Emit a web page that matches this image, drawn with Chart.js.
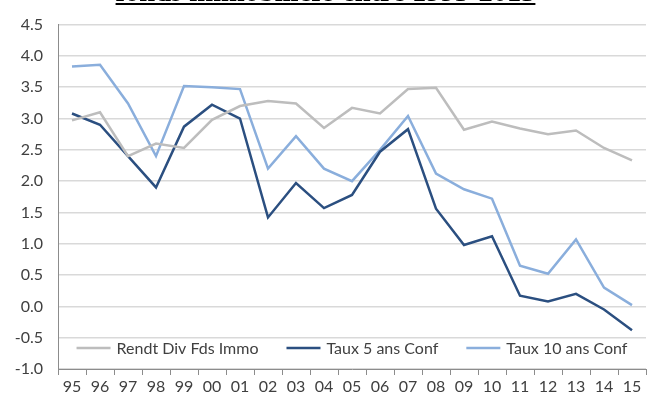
<!DOCTYPE html>
<html>
<head>
<meta charset="utf-8">
<script src="https://cdn.jsdelivr.net/npm/chart.js@4/dist/chart.umd.min.js"></script>
<style>
    html, body { margin: 0; padding: 0; background: #fff; overflow: hidden; }
    #wrap { position: relative; width: 651px; height: 394px; }
    #title {
        position: absolute; left: 0; width: 651px; top: -22px;
        text-align: center; font: bold 28.5px 'Liberation Serif', serif;
        line-height: 28px; color: #000; text-decoration: underline;
        white-space: nowrap;
    }
</style>
</head>
<body>
<div id="wrap">
    <canvas id="chart" width="651" height="394"></canvas>
    <div id="title">fonds immobiliers entre 1995-2015</div>
</div>
<script>
const years = ['95', '96', '97', '98', '99', '00', '01', '02', '03', '04', '05',
    '06', '07', '08', '09', '10', '11', '12', '13', '14', '15'];
const rendtDiv = [2.97, 3.10, 2.40, 2.60, 2.53, 2.98, 3.20, 3.28, 3.24, 2.85, 3.17,
    3.08, 3.47, 3.49, 2.82, 2.95, 2.84, 2.75, 2.81, 2.53, 2.33];
const taux5 = [3.08, 2.90, 2.40, 1.90, 2.87, 3.22, 3.00, 1.42, 1.97, 1.57, 1.78,
    2.47, 2.83, 1.56, 0.98, 1.12, 0.17, 0.08, 0.20, -0.05, -0.38];
const taux10 = [3.83, 3.86, 3.24, 2.40, 3.52, 3.50, 3.47, 2.20, 2.72, 2.20, 2.00,
    2.50, 3.04, 2.12, 1.87, 1.72, 0.65, 0.52, 1.07, 0.30, 0.02];

const textColor = '#404040';
const font = { family: "Lato, 'Open Sans', sans-serif", size: 16 };

// legend drawn inside the plot, along its bottom edge
const insideLegend = {
    id: 'insideLegend',
    afterDraw(chart) {
        const ctx = chart.ctx;
        const area = chart.chartArea;
        const y = area.bottom - 21;
        const lineLen = 34, gapLine = 6, gapItem = 28;
        ctx.save();
        ctx.font = font.size + 'px ' + font.family;
        ctx.textBaseline = 'middle';
        const items = chart.data.datasets.map(ds => ({
            ds, w: lineLen + gapLine + ctx.measureText(ds.label).width
        }));
        const total = items.reduce((s, it) => s + it.w, 0) + gapItem * (items.length - 1);
        let x = (area.left + area.right) / 2 - total / 2;
        items.forEach(it => {
            ctx.strokeStyle = it.ds.borderColor;
            ctx.lineWidth = it.ds.borderWidth;
            ctx.beginPath();
            ctx.moveTo(x, y);
            ctx.lineTo(x + lineLen, y);
            ctx.stroke();
            ctx.fillStyle = textColor;
            ctx.fillText(it.ds.label, x + lineLen + gapLine, y + 1);
            x += it.w + gapItem;
        });
        ctx.restore();
    }
};

new Chart(document.getElementById('chart'), {
    type: 'line',
    data: {
        labels: years,
        datasets: [{
            label: 'Rendt Div Fds Immo',
            data: rendtDiv,
            borderColor: '#BDBDBD',
            borderWidth: 2.5,
            pointRadius: 0,
            tension: 0
        }, {
            label: 'Taux 5 ans Conf',
            data: taux5,
            borderColor: '#2B4F80',
            borderWidth: 2.5,
            pointRadius: 0,
            tension: 0
        }, {
            label: 'Taux 10 ans Conf',
            data: taux10,
            borderColor: '#8AAEDC',
            borderWidth: 2.5,
            pointRadius: 0,
            tension: 0
        }]
    },
    options: {
        responsive: false,
        animation: false,
        layout: { padding: { top: 17, right: 5, left: 0, bottom: 0 } },
        plugins: {
            legend: { display: false },
            tooltip: { enabled: false }
        },
        scales: {
            x: {
                offset: true,
                afterFit: scale => { scale.height = 25; },
                grid: {
                    offset: true,
                    drawOnChartArea: false,
                    tickLength: 6,
                    color: '#8c8c8c'
                },
                border: { color: '#8c8c8c', width: 1 },
                ticks: { font, color: textColor, padding: 2, maxRotation: 0, autoSkip: false }
            },
            y: {
                min: -1,
                max: 4.5,
                afterFit: scale => { scale.width = 58; },
                grid: { color: '#d9d9d9', lineWidth: 1.5, drawTicks: false },
                border: { color: '#8c8c8c', width: 1 },
                ticks: {
                    stepSize: 0.5,
                    font,
                    color: textColor,
                    padding: 15,
                    callback: v => v.toFixed(1)
                }
            }
        }
    },
    plugins: [insideLegend]
});
</script>
</body>
</html>
